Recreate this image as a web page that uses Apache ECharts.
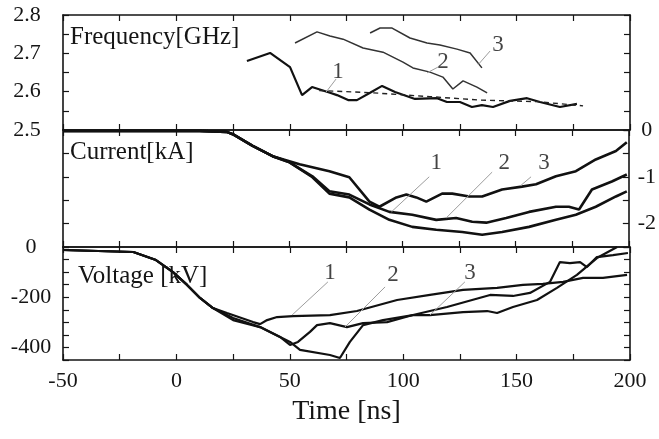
<!DOCTYPE html>
<html><head><meta charset="utf-8">
<script src="https://cdn.jsdelivr.net/npm/echarts@6/dist/echarts.min.js"></script>
<style>html,body{margin:0;padding:0;background:#fff}#c{width:659px;height:439px}</style>
</head><body><div id="c"></div>
<script>
// ---- tick labels ----
const timeTickLabels = [-50, 0, 50, 100, 150, 200];
const freqTickLabels = [2.5, 2.6, 2.7, 2.8];
const currTickLabels = [0, -1, -2];
const voltTickLabels = [0, -200, -400];
const curveNames = ['1', '2', '3'];

// ---- Frequency [GHz] ----
const freq1T = [31.1, 41.3, 50.1, 55.4, 59.8, 67.7, 70.8, 75.7, 79.6, 85.4, 90.7, 96.4, 105.2, 114.9, 119.3, 125.0, 130.3, 134.7, 139.6, 147.1, 154.6, 160.3, 169.1, 176.6];
const freq1V = [2.680, 2.701, 2.664, 2.591, 2.612, 2.597, 2.591, 2.578, 2.578, 2.597, 2.615, 2.599, 2.581, 2.583, 2.573, 2.573, 2.560, 2.565, 2.560, 2.576, 2.583, 2.573, 2.560, 2.568];
const freq2T = [52.3, 62.0, 67.7, 73.5, 82.3, 91.1, 99.9, 104.3, 111.8, 117.5, 121.9, 126.4, 132.5, 137.0];
const freq2V = [2.727, 2.756, 2.745, 2.737, 2.714, 2.703, 2.677, 2.662, 2.651, 2.638, 2.607, 2.628, 2.612, 2.597];
const freq3T = [85.4, 89.8, 95.1, 103.0, 110.5, 116.2, 123.7, 129.5, 134.7];
const freq3V = [2.753, 2.766, 2.766, 2.740, 2.727, 2.722, 2.711, 2.701, 2.662];
const freqFitT = [63.0, 86.7, 111.8, 133.9, 159.0, 179.3];
const freqFitV = [2.603, 2.597, 2.587, 2.578, 2.574, 2.563];

// ---- Current [kA] ----
const curr1T = [-50, 10.4, 22.3, 25.0, 33.8, 42.6, 54.5, 67.7, 76.5, 85.4, 89.8, 97.3, 101.7, 106.1, 110.5, 117.5, 122.0, 129.5, 135.2, 144.0, 152.8, 159.0, 167.8, 176.6, 185.4, 194.3, 199.1];
const curr1V = [-0.02, -0.02, -0.04, -0.09, -0.34, -0.56, -0.73, -0.88, -1.01, -1.53, -1.64, -1.44, -1.38, -1.44, -1.53, -1.36, -1.36, -1.42, -1.42, -1.27, -1.21, -1.16, -0.99, -0.88, -0.63, -0.45, -0.26];
const curr2T = [-50, 10.4, 22.3, 25.0, 33.8, 42.6, 50.1, 60.2, 67.7, 76.5, 85.4, 94.2, 104.3, 114.9, 123.7, 130.8, 137.0, 145.8, 155.9, 167.8, 173.5, 178.0, 183.7, 192.5, 199.1];
const curr2V = [-0.02, -0.02, -0.04, -0.09, -0.34, -0.56, -0.69, -0.99, -1.31, -1.38, -1.59, -1.75, -1.81, -1.92, -1.88, -1.96, -1.98, -1.88, -1.75, -1.64, -1.64, -1.70, -1.27, -1.10, -0.95];
const curr3T = [-50, 10.4, 22.3, 25.0, 33.8, 42.6, 50.1, 60.2, 67.7, 76.5, 85.4, 94.2, 104.3, 114.9, 126.4, 135.2, 144.0, 155.9, 167.8, 176.6, 185.4, 194.3, 199.1];
const curr3V = [-0.02, -0.02, -0.04, -0.09, -0.34, -0.56, -0.69, -1.01, -1.36, -1.44, -1.70, -1.92, -2.07, -2.13, -2.18, -2.24, -2.18, -2.07, -1.92, -1.81, -1.64, -1.42, -1.31];

// ---- Voltage [kV] ----
const volt1T = [-50, -19, -9, -1.5, 4.7, 10.4, 16.1, 22.3, 33.8, 36.9, 40, 44.4, 51.4, 67.7, 79.6, 97.3, 111.8, 126.4, 141.4, 152.8, 161.6, 170.5, 179.3, 188.1, 198.7];
const volt1V = [-12, -20, -52, -100, -151, -203, -243, -263, -299, -307, -291, -279, -275, -271, -255, -211, -191, -171, -163, -151, -147, -139, -123, -123, -111];
const volt2T = [-50, -19, -9, -1.5, 4.7, 10.4, 16.1, 25, 36.9, 45.7, 50.1, 53.6, 58.9, 62, 67.7, 75.2, 82.3, 92.9, 104.3, 119.3, 138.3, 148.4, 155.9, 164.7, 169.1, 173.5, 178, 181, 185.4, 192.5, 199.1];
const volt2V = [-12, -20, -52, -100, -151, -203, -243, -283, -319, -358, -390, -378, -338, -311, -303, -319, -303, -299, -271, -239, -191, -195, -183, -139, -60, -64, -60, -80, -40, -32, -24];
const volt3T = [-50, -19, -9, -1.5, 4.7, 10.4, 16.1, 25, 36.9, 50.1, 54.5, 67.7, 72.1, 76.5, 82.3, 91.1, 104.3, 111.8, 126.4, 137, 141.4, 148.4, 159, 167.8, 176.6, 185.4, 194.3];
const volt3V = [-12, -20, -52, -100, -151, -203, -243, -291, -319, -378, -410, -430, -442, -378, -311, -291, -271, -271, -259, -255, -263, -239, -211, -163, -111, -44, 0];

// ---- annotations (data coordinates) ----
const freqLabelPos = [[71.3, 2.651], [117.5, 2.677], [141.8, 2.722]];
const freqLeaders = [[70.4, 2.633, 66.0, 2.599], [115.3, 2.664, 110.5, 2.649], [138.3, 2.706, 133.0, 2.670]];
const currLabelPos = [[114.9, -0.71], [144.9, -0.71], [162.5, -0.71]];
const currLeaders = [[111.8, -1.00, 95.1, -1.75], [139.6, -0.90, 119.3, -1.88], [156.8, -1.00, 152.4, -1.18]];
const voltLabelPos = [[67.7, -104], [95.5, -111], [129.5, -104]];
const voltLeaders = [[66.8, -139, 51.0, -271], [92.0, -159, 74.3, -319], [127.2, -139, 111.8, -271]];

const zip = (a, b) => a.map((x, i) => [x, b[i]]);
const FONT = 'Liberation Serif';
const INK = '#151515';

const axisLine = { show: true, onZero: false, lineStyle: { color: INK, width: 1.6 } };
const axisTick = { show: true, inside: true, length: 6, lineStyle: { color: INK, width: 1.2 } };
const noLabel = { show: false };

function xAx(grid, pos, labels) {
  return {
    type: 'value', gridIndex: grid, position: pos, min: -50, max: 200, interval: 25,
    axisLine, axisTick, splitLine: { show: false },
    axisLabel: labels ? {
      show: true, fontFamily: FONT, fontSize: 22, color: INK, margin: 10,
      formatter: v => timeTickLabels.includes(v) ? String(v) : ''
    } : noLabel,
    name: labels ? 'Time [ns]' : '', nameLocation: 'middle', nameGap: 38,
    nameTextStyle: { fontFamily: FONT, fontSize: 28, color: INK }
  };
}
function yAx(grid, pos, min, max, interval, label) {
  return {
    type: 'value', gridIndex: grid, position: pos, min, max, interval,
    axisLine, axisTick, splitLine: { show: false },
    axisLabel: label || noLabel
  };
}
function near(v, list, dec) {
  for (const t of list) if (Math.abs(v - t) < 1e-6) return t.toFixed(dec);
  return '';
}

const lineS = (name, data, x, y, width, color, type) => ({
  name, type: 'line', data, xAxisIndex: x, yAxisIndex: y, showSymbol: false, symbol: 'none',
  lineStyle: { color, width, type: type || 'solid' }, z: 3, silent: true
});
function annot(pos, leaders, x, y) {
  return {
    type: 'scatter', xAxisIndex: x, yAxisIndex: y, symbolSize: 1, silent: true, z: 5,
    itemStyle: { color: 'rgba(0,0,0,0)' },
    data: pos.map((p, i) => ({ name: curveNames[i], value: p })),
    label: { show: true, position: 'inside', formatter: p => p.name, fontFamily: FONT, fontSize: 23, color: INK },
    markLine: {
      silent: true, symbol: ['none', 'none'], animation: false,
      lineStyle: { color: '#9d9d9d', width: 1, type: 'solid' }, label: { show: false },
      data: leaders.map(l => [{ coord: [l[0], l[1]] }, { coord: [l[2], l[3]] }])
    }
  };
}

const chart = echarts.init(document.getElementById('c'), null, { renderer: 'canvas' });
chart.setOption({
  animation: false,
  backgroundColor: '#fff',
  title: [
    { text: 'Frequency[GHz]', left: 70, top: 25, padding: 0, textStyle: { fontFamily: FONT, fontSize: 25, fontWeight: 'normal', color: INK } },
    { text: 'Current[kA]', left: 70, top: 140, padding: 0, textStyle: { fontFamily: FONT, fontSize: 25, fontWeight: 'normal', color: INK } },
    { text: 'Voltage [kV]', left: 78, top: 264, padding: 0, textStyle: { fontFamily: FONT, fontSize: 25, fontWeight: 'normal', color: INK } }
  ],
  grid: [
    { left: 63, right: 29, top: 15, height: 115 },
    { left: 63, right: 29, top: 130, height: 117 },
    { left: 63, right: 29, top: 247, height: 113 }
  ],
  xAxis: [
    xAx(0, 'bottom', false), xAx(0, 'top', false),
    xAx(1, 'bottom', false), xAx(1, 'top', false),
    xAx(2, 'bottom', true), xAx(2, 'top', false)
  ],
  yAxis: [
    yAx(0, 'left', 2.5, 2.8, 0.05, { show: true, fontFamily: FONT, fontSize: 22, color: INK, margin: 36, align: 'center',
      formatter: v => near(v, freqTickLabels, 1) }),
    yAx(0, 'right', 2.5, 2.8, 0.05),
    yAx(1, 'left', -2.5, 0, 0.5),
    yAx(1, 'right', -2.5, 0, 0.5, { show: true, fontFamily: FONT, fontSize: 22, color: INK, margin: 18, align: 'center',
      formatter: v => near(v, currTickLabels, 0) }),
    yAx(2, 'left', -450, 0, 50, { show: true, fontFamily: FONT, fontSize: 22, color: INK, margin: 32, align: 'center',
      formatter: v => near(v, voltTickLabels, 0) }),
    yAx(2, 'right', -450, 0, 50)
  ],
  series: [
    lineS('f1', zip(freq1T, freq1V), 0, 0, 2.2, '#111'),
    lineS('f2', zip(freq2T, freq2V), 0, 0, 1.5, '#333'),
    lineS('f3', zip(freq3T, freq3V), 0, 0, 1.5, '#333'),
    lineS('ffit', zip(freqFitT, freqFitV), 0, 0, 1.4, '#222', [5, 4]),
    lineS('c1', zip(curr1T, curr1V), 2, 2, 2.6, '#111'),
    lineS('c2', zip(curr2T, curr2V), 2, 2, 2.6, '#111'),
    lineS('c3', zip(curr3T, curr3V), 2, 2, 2.6, '#111'),
    lineS('v1', zip(volt1T, volt1V), 4, 4, 2.2, '#111'),
    lineS('v2', zip(volt2T, volt2V), 4, 4, 2.2, '#111'),
    lineS('v3', zip(volt3T, volt3V), 4, 4, 2.2, '#111'),
    annot(freqLabelPos, freqLeaders, 0, 0),
    annot(currLabelPos, currLeaders, 2, 2),
    annot(voltLabelPos, voltLeaders, 4, 4)
  ]
});
</script>
</body></html>
